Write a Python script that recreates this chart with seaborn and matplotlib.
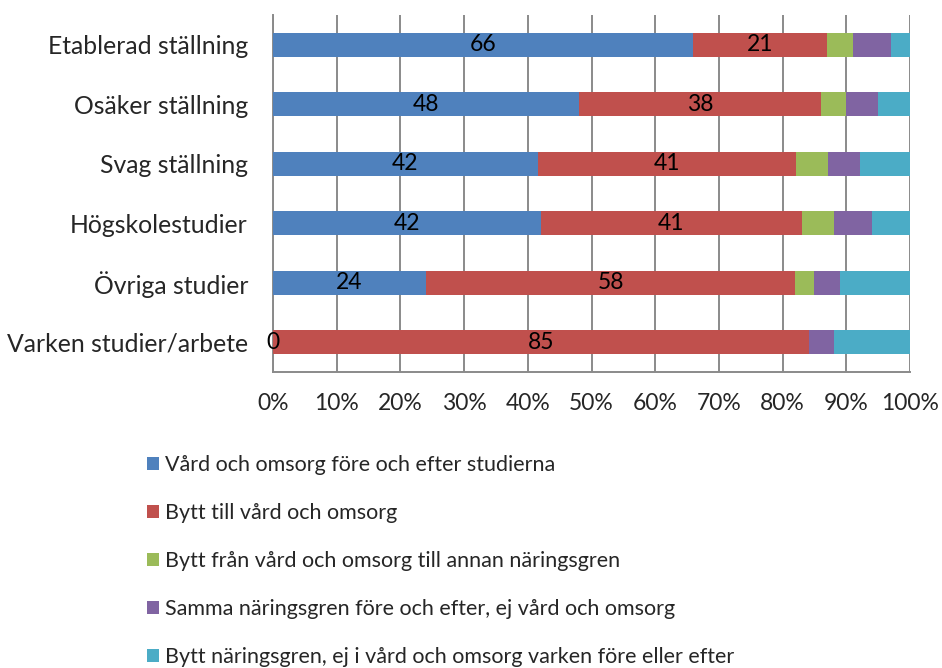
import matplotlib
matplotlib.use("Agg")
import matplotlib.pyplot as plt
from matplotlib.patches import Patch
import seaborn as sns
import pandas as pd
import numpy as np

categories = ["Etablerad ställning", "Osäker ställning", "Svag ställning",
              "Högskolestudier", "Övriga studier", "Varken studier/arbete"]
series_names = ["Vård och omsorg före och efter studierna",
                "Bytt till vård och omsorg",
                "Bytt från vård och omsorg till annan näringsgren",
                "Samma näringsgren före och efter, ej vård och omsorg",
                "Bytt näringsgren, ej i vård och omsorg varken före eller efter"]
vard_fore_efter = [66, 48, 42, 42, 24, 0]
bytt_till_vard = [21, 38, 41, 41, 58, 85]
bytt_fran_vard = [4, 4, 5, 5, 3, 0]
samma_naringsgren = [6, 5, 5, 6, 4, 4]
bytt_naringsgren = [3, 5, 8, 6, 11, 12]
xtick_labels = ["0%", "10%", "20%", "30%", "40%", "50%", "60%", "70%", "80%", "90%", "100%"]

colors = ["#4F81BD", "#C0504D", "#9BBB59", "#8064A2", "#4BACC6"]

sns.set_theme(style="white")
plt.rcParams["font.family"] = ["Lato", "DejaVu Sans"]
FS = 16.5
FS_CAT = 17.8
FS_LEG = 15.5

raw = np.array([vard_fore_efter, bytt_till_vard, bytt_fran_vard,
                samma_naringsgren, bytt_naringsgren], dtype=float)
totals = raw.sum(axis=0)
pct = raw / totals * 100
cum = np.cumsum(pct, axis=0)

fig = plt.figure(figsize=(9.42, 6.68), dpi=100)
ax = fig.add_axes([273 / 942, 1 - 372 / 668, 637 / 942, 357 / 668])

# draw cumulative totals from the outermost segment inward (stacked look)
for i in range(len(series_names) - 1, -1, -1):
    df = pd.DataFrame({"Kategori": categories, "Andel": cum[i]})
    sns.barplot(data=df, x="Andel", y="Kategori", orient="h", color=colors[i],
                width=0.4, ax=ax, saturation=1, zorder=3, edgecolor="none")

# value labels for the first two series
for j, cat in enumerate(categories):
    for i in range(2):
        start = cum[i - 1][j] if i > 0 else 0.0
        center = start + pct[i][j] / 2
        ax.text(center, j, f"{int(raw[i][j])}", ha="center", va="center",
                fontsize=FS, color="black", zorder=5)

ax.set_xlim(0, 100)
ax.set_ylim(5.5, -0.5)
ax.set_xticks(np.arange(0, 101, 10))
ax.set_xticklabels(xtick_labels, fontsize=FS)
ax.set_xlabel("")
ax.set_ylabel("")
ax.tick_params(axis="y", which="major", length=0, pad=18, labelsize=FS_CAT)
ax.set_yticks(np.arange(-0.5, 6, 1), minor=True)
ax.tick_params(axis="y", which="minor", length=6, color="#8a8a8a", width=1.3, direction="out")
ax.tick_params(axis="x", which="major", length=6, color="#8a8a8a", width=1.3, direction="out", pad=9)
ax.xaxis.grid(True, color="#8a8a8a", linewidth=1.4, zorder=0)
ax.set_axisbelow(True)
for s in ["top", "right"]:
    ax.spines[s].set_visible(False)
for s in ["left", "bottom"]:
    ax.spines[s].set_color("#8a8a8a")
    ax.spines[s].set_linewidth(1.4)

handles = [Patch(facecolor=c, edgecolor="none") for c in colors]
fig.legend(handles, series_names, loc="upper left", bbox_to_anchor=(147 / 942, 1 - 455 / 668),
           frameon=False, fontsize=FS_LEG, handlelength=0.55, handleheight=0.55,
           handletextpad=0.3, labelspacing=1.3, borderpad=0, borderaxespad=0)

fig.savefig("out.png", dpi=100, facecolor="white")
